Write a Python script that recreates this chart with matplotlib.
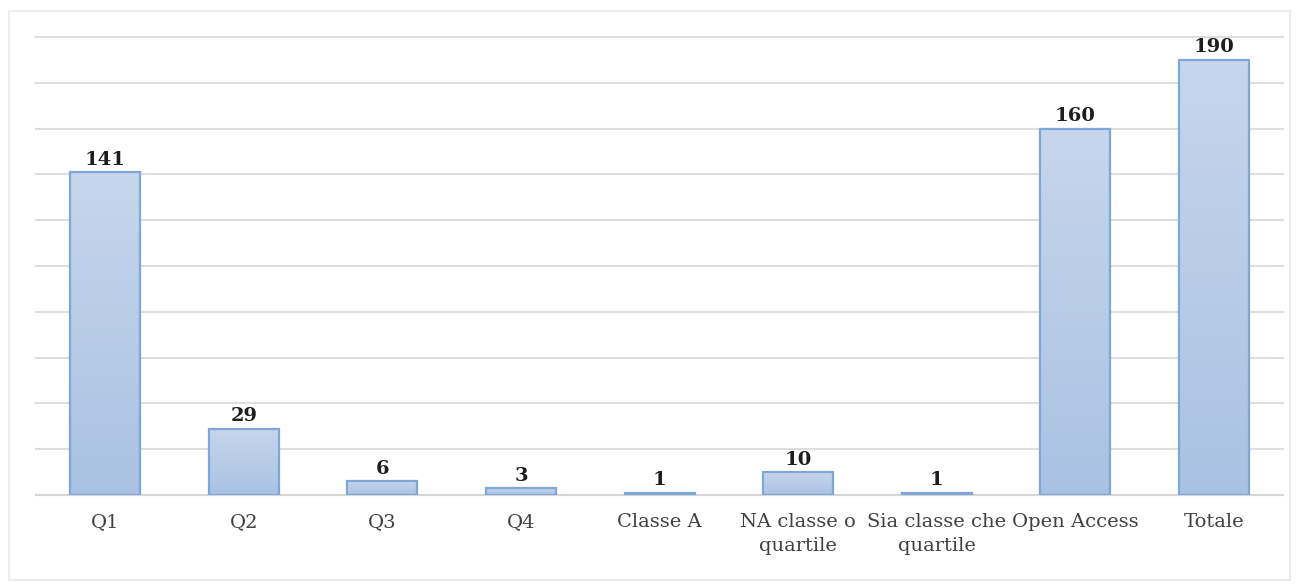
import numpy as np
import matplotlib.pyplot as plt
from matplotlib.patches import Rectangle
from matplotlib.colors import LinearSegmentedColormap

categories = ['Q1', 'Q2', 'Q3', 'Q4', 'Classe A', 'NA classe o\nquartile',
              'Sia classe che\nquartile', 'Open Access', 'Totale']
values = [141, 29, 6, 3, 1, 10, 1, 160, 190]

plt.rcParams['font.family'] = ['DejaVu Serif']

fig = plt.figure(figsize=(12.96, 5.84), dpi=100)
ax = fig.add_axes([0.0278, 0.1524, 0.9622, 0.7842])

# light frame around the chart area
fig.patches.append(Rectangle((9 / 1296, 4 / 584), 1281 / 1296, 569 / 584,
                             transform=fig.transFigure, fill=False,
                             edgecolor='#ececec', linewidth=1.5))

x = np.arange(len(categories))
bars = ax.bar(x, values, width=0.505, color='none', edgecolor='#7ea6d8',
              linewidth=1.6, zorder=3)

cmap = LinearSegmentedColormap.from_list('grad', ['#a9c2e3', '#c6d6ec'])
grad = np.linspace(0, 1, 256).reshape(-1, 1)
for b, v in zip(bars, values):
    x0 = b.get_x()
    im = ax.imshow(grad, cmap=cmap, origin='lower', aspect='auto',
                   extent=[x0, x0 + b.get_width(), 0, max(v, 0.5)], zorder=2)
    im.set_clip_path(b)
    ax.annotate(str(v), (b.get_x() + b.get_width() / 2, v), xytext=(0, 2.5),
                textcoords='offset points', ha='center', va='bottom',
                fontsize=14, fontweight='bold', color='#1e1e1e')

ax.set_xlim(-0.5, len(categories) - 0.5)
ax.set_ylim(0, 200)
ax.set_yticks(np.arange(0, 201, 20))
ax.set_yticklabels([])
ax.grid(axis='y', color='#dedede', linewidth=1.5, zorder=0)
for gl in ax.get_ygridlines():
    gl.set_clip_on(False)
ax.set_axisbelow(True)
ax.tick_params(axis='both', length=0)
ax.set_xticks(x)
ax.set_xticklabels(categories, fontsize=14, color='#404040', linespacing=1.4)
ax.tick_params(axis='x', pad=13)
for s in ['top', 'right', 'left']:
    ax.spines[s].set_visible(False)
ax.spines['bottom'].set_color('#d6d6d6')
ax.spines['bottom'].set_linewidth(1.5)

fig.savefig('out.png', dpi=100)
